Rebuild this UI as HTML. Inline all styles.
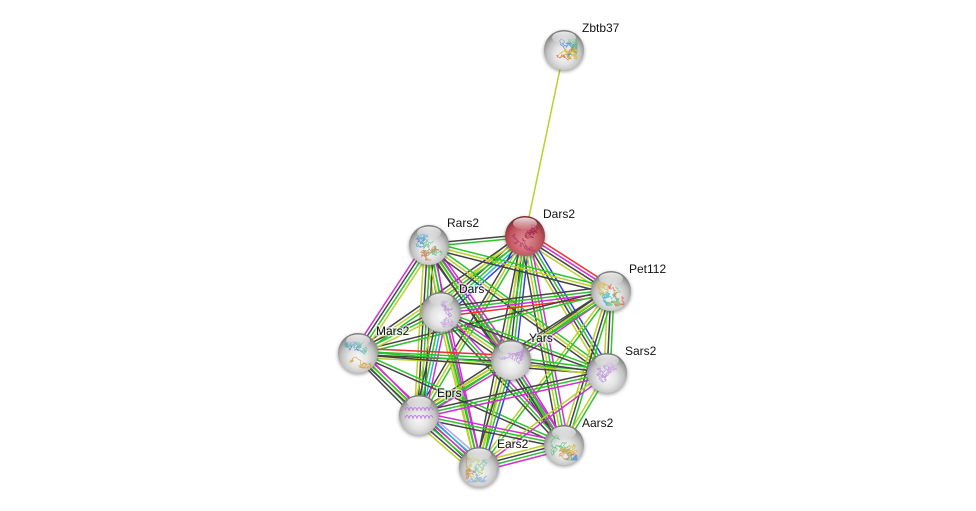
<!DOCTYPE html>
<html>
<head>
<meta charset="utf-8">
<style>
html,body{margin:0;padding:0;background:#fff;width:976px;height:511px;overflow:hidden}
svg{display:block}
text{font-family:"Liberation Sans",sans-serif;font-size:12px;fill:#111;paint-order:stroke;stroke:#fff;stroke-width:3px;stroke-opacity:.6}
</style>
</head>
<body>
<svg id="s" width="976" height="511" viewBox="0 0 976 511" xmlns="http://www.w3.org/2000/svg">
<defs>
<radialGradient id="g" cx="50%" cy="62%" r="58%">
<stop offset="0" stop-color="#f6f6f6"/><stop offset=".4" stop-color="#e4e4e4"/><stop offset=".72" stop-color="#c2c2c2"/><stop offset=".92" stop-color="#969696"/><stop offset="1" stop-color="#7c7c7c"/>
</radialGradient>
<radialGradient id="r" cx="50%" cy="62%" r="58%">
<stop offset="0" stop-color="#de9096"/><stop offset=".4" stop-color="#d0707a"/><stop offset=".72" stop-color="#bc525a"/><stop offset=".92" stop-color="#983a42"/><stop offset="1" stop-color="#782c30"/>
</radialGradient>
<linearGradient id="h" x1="0" y1="0" x2="0" y2="1">
<stop offset="0" stop-color="#fff" stop-opacity=".85"/><stop offset="1" stop-color="#fff" stop-opacity=".08"/>
</linearGradient>
<filter id="b" x="-30%" y="-30%" width="160%" height="160%"><feGaussianBlur stdDeviation="1.5"/></filter>
</defs>
<g id="edges" fill="none" stroke-width="1.5"></g>
<g id="nodes"></g>
<g id="labels">
<text x="582" y="32">Zbtb37</text>
<text x="543" y="218">Dars2</text>
<text x="447" y="227">Rars2</text>
<text x="629" y="273">Pet112</text>
<text x="459" y="293">Dars</text>
<text x="376" y="335">Mars2</text>
<text x="529" y="342">Yars</text>
<text x="625" y="355">Sars2</text>
<text x="437" y="397">Eprs</text>
<text x="582" y="427">Aars2</text>
<text x="497" y="448">Ears2</text>
</g>
</svg>
<script>
var N={Z:[564,50],D2:[525,236],R:[429,245],P:[611,291],D:[441,312],M:[358,353],Y:[511,360],S:[607,373],E:[419,415],A:[564,445],EA:[479,467]};
var C={r:'#f22f2f',b:'#3a3af0',c:'#22b8d8',m:'#d52cd5',g:'#2cc42c',y:'#bcd02a',k:'#444444',p:'#a8a8f5'};
var E=[
['Z','D2','y'],
['D2','R','gk'],['D2','P','rmky'],['D2','D','bcgky'],['D2','M','gyk'],['D2','Y','bgky'],['D2','S','bgky'],['D2','E','gyk'],['D2','A','mgyk'],['D2','EA','gyk'],
['R','P','gyk'],['R','D','kgky'],['R','M','ygkm'],['R','Y','mgyk'],['R','S','gyk'],['R','E','kgky'],['R','A','mgk'],['R','EA','mgy'],
['P','D','rmgk'],['P','M','gk'],['P','Y','mgk'],['P','S','gky'],['P','E','gyk'],['P','A','gky'],['P','EA','gy'],
['D','M','ygk'],['D','Y','mgyk'],['D','S','gk'],['D','E','mcgky'],['D','A','mgk'],['D','EA','mgy'],
['M','Y','rgky'],['M','S','gk'],['M','E','mygk'],['M','A','gk'],['M','EA','mgk'],
['Y','S','gky'],['Y','E','mgy'],['Y','A','mgk'],['Y','EA','bgyk'],
['S','E','mgk'],['S','A','gy'],['S','EA','my'],
['E','A','mgk'],['E','EA','pcmgky'],
['A','EA','mgky']
];
var NS='http://www.w3.org/2000/svg';
function el(p,n,a){var e=document.createElementNS(NS,n);for(var k in a)e.setAttribute(k,a[k]);p.appendChild(e);return e}
var eg=document.getElementById('edges');
E.forEach(function(x){
 var a=N[x[0]],b=N[x[1]],c=x[2],dx=b[0]-a[0],dy=b[1]-a[1],l=Math.hypot(dx,dy),nx=-dy/l,ny=dx/l;
 for(var i=0;i<c.length;i++){var o=(i-(c.length-1)/2)*3.1;
  el(eg,'line',{x1:a[0]+nx*o,y1:a[1]+ny*o,x2:b[0]+nx*o,y2:b[1]+ny*o,stroke:C[c[i]]});}
});
var seed=7;function rnd(){seed=(seed*16807)%2147483647;return seed/2147483647}
var P={Z:['#e0703a','#4a8fd8','#5cc47c','#d8c040'],D2:['#a02850','#b83a66'],R:['#4aa0d0','#d07840','#70c090'],P:['#50b8c0','#d8c050','#e07050','#80c880'],D:['#c9a5dc','#b994d4'],M:['#5a8ad8','#d8a040','#60c0a0'],Y:['#c8a0e0','#b890d0'],S:['#b890d8','#c8a8e0'],E:['#c080e0','#b070d8'],A:['#60c080','#e09050','#5090d0','#d8c050'],EA:['#90c8b0','#c0d060','#d09060','#90b0e0']};
var ng=document.getElementById('nodes');
Object.keys(N).forEach(function(k){
 var n=N[k],x=n[0],y=n[1],red=k=='D2',R0=20;
 el(ng,'circle',{cx:x,cy:y+1.5,r:20.5,fill:'#555','fill-opacity':.5,filter:'url(#b)'});
 el(ng,'circle',{cx:x,cy:y,r:R0,fill:red?'url(#r)':'url(#g)'});
 var cols=P[k];
 if(k=='E'){
  [-5,3].forEach(function(o){var d='M'+(x-14)+' '+(y+o);for(var t=0;t<7;t++){d+=' q2 -5 4 0';}
   el(ng,'path',{d:d,fill:'none',stroke:'#c080e0','stroke-width':1.1});});
 } else {
  for(var j=0;j<cols.length;j++){
   var px=x+(rnd()-.5)*12,py=y+(rnd()-.5)*14+1,d='M'+px.toFixed(1)+' '+py.toFixed(1);
   for(var t=0;t<70;t++){
    px+=(rnd()-.5)*5.5;py+=(rnd()-.5)*5.5;
    px=Math.max(x-13,Math.min(x+13,px));py=Math.max(y-11,Math.min(y+15,py));
    d+=' L'+px.toFixed(1)+' '+py.toFixed(1);
   }
   el(ng,'path',{d:d,fill:'none',stroke:cols[j],'stroke-width':.7,'stroke-opacity':.85});
  }
 }
 el(ng,'ellipse',{cx:x,cy:y-12.5,rx:12,ry:6,fill:'url(#h)'});
});
</script>
</body>
</html>
